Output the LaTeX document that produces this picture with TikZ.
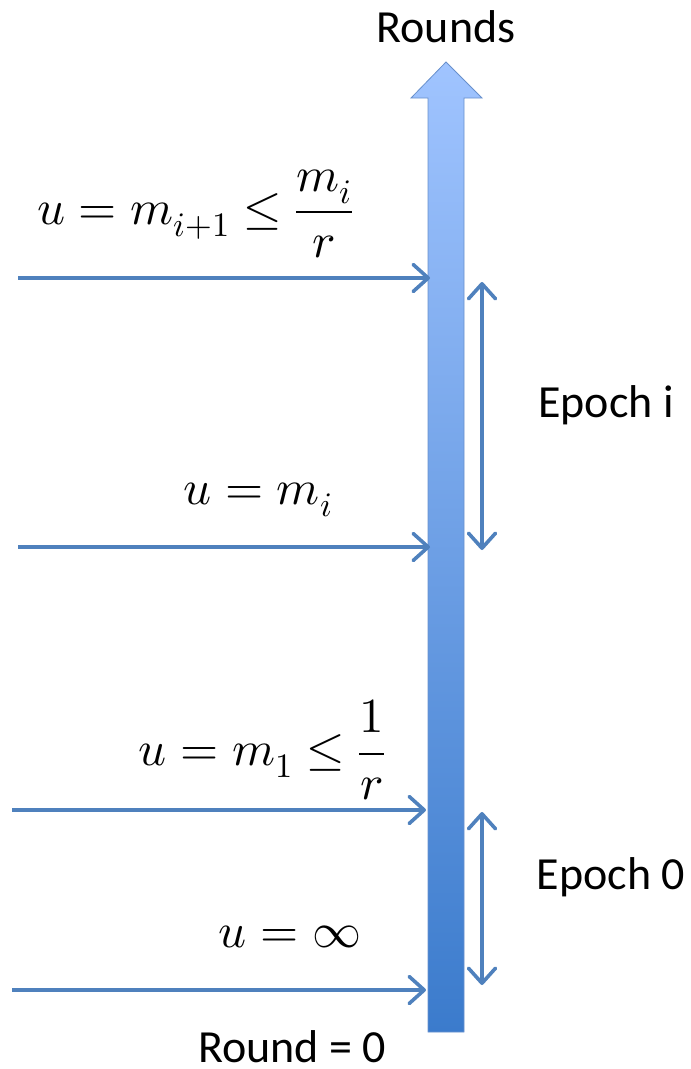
\documentclass[tikz,border=0pt]{standalone}
\usepackage{amsmath}
\usepackage{fontspec}
\usepackage{unicode-math}
\setmainfont{Carlito}
\setmathfont{Latin Modern Math}
\usetikzlibrary{positioning, arrows.meta, calc}
\definecolor{roundLine}{HTML}{4F81BD}
\definecolor{shaftTop} {HTML}{A0C4FF}
\definecolor{shaftBot} {HTML}{3B7BCC}
\definecolor{shaftEdge}{HTML}{6890CC}

\begin{document}
\begin{tikzpicture}[x=1pt, y=-1pt,
    barb/.tip={Straight Barb[length=15pt, width=27pt, line cap=round, line join=round]},
    mark line/.style={draw=roundLine, line width=3.6pt, -barb},
    span line/.style={draw=roundLine, line width=3.6pt, barb-barb},
    lbl/.style={font=\fontsize{46}{48}\selectfont, inner sep=0pt},
    mlbl/.style={font=\fontsize{49}{51}\selectfont, inner sep=0pt}]
  \useasboundingbox (0,0) rectangle (691,1069);
  % the rounds axis, light at the top and darker below
  \shade[top color=shaftTop, bottom color=shaftBot, draw=shaftEdge, line width=0.8pt]
    (428,1032) -- (428,98) -- (411,98) -- (446,62) -- (482,98)
    -- (464,98) -- (464,1032) -- cycle;
  \node[lbl] (rounds) at (446,27)  {Rounds};
  \node[lbl] (round0) at (292,1047) {Round = 0};
  % thresholds of u, each pointing at the axis
  \foreach \n/\xs/\xe/\y in
    {mi1/18/430/278, mi/18/430/547, m1/12/426/810, inf/12/426/990}{
    \coordinate (\n-s) at (\xs,\y);
    \coordinate (\n-e) at (\xe,\y);
    \draw[mark line] (\n-s) -- (\n-e);
  }
  \node[mlbl] (lbl-mi1) at (195,214) {$u = m_{i+1} \le \dfrac{m_i}{r}$};
  \node[mlbl] (lbl-mi)  at (258,500) {$u = m_i$};
  \node[mlbl] (lbl-m1)  at (262,750) {$u = m_1 \le \dfrac{1}{r}$};
  \node[mlbl] (lbl-inf) at (290,937) {$u = \infty$};
  % epochs
  \coordinate (ei-top) at (482,282);
  \coordinate (ei-bot) at (482,550);
  \coordinate (e0-top) at (482,812);
  \coordinate (e0-bot) at (482,985);
  \draw[span line] (ei-top) -- (ei-bot);
  \draw[span line] (e0-top) -- (e0-bot);
  \node[lbl] (epoch-i) at (606,405) {Epoch i};
  \node[lbl] (epoch-0) at (611,877) {Epoch 0};
\end{tikzpicture}
\end{document}
